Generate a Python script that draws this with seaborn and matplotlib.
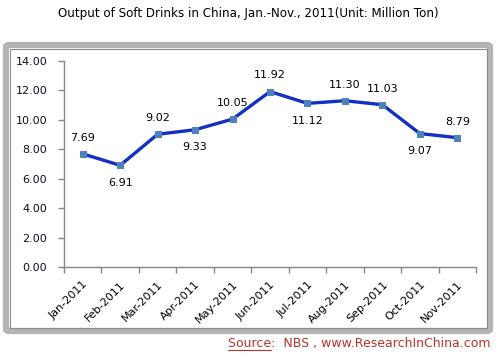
import numpy as np
import pandas as pd
import matplotlib
matplotlib.use("Agg")
import matplotlib.pyplot as plt
import seaborn as sns
from matplotlib.patches import FancyBboxPatch

# Monthly output of soft drinks (million ton)
months = ["Jan-2011", "Feb-2011", "Mar-2011", "Apr-2011", "May-2011", "Jun-2011",
          "Jul-2011", "Aug-2011", "Sep-2011", "Oct-2011", "Nov-2011"]
output = [7.69, 6.91, 9.02, 9.33, 10.05, 11.92, 11.12, 11.30, 11.03, 9.07, 8.79]
# label above (+1) or below (-1) the point
label_side = [1, -1, 1, -1, 1, 1, -1, 1, 1, -1, 1]

df = pd.DataFrame({"month": months, "output": output, "pos": np.arange(len(months))})

sns.set_style("white")
plt.rcParams["font.family"] = ["DejaVu Sans"]

fig = plt.figure(figsize=(4.96, 3.56), dpi=100)
fig.patch.set_facecolor("white")

# beveled frame around the chart
frame = FancyBboxPatch((6 / 496, 1 - 331 / 356), 484 / 496, 286 / 356,
                       boxstyle="round,pad=0,rounding_size=0.006",
                       transform=fig.transFigure, facecolor="white",
                       edgecolor="#b4b4b4", linewidth=4.5, zorder=-2)
fig.patches.append(frame)
inner = FancyBboxPatch((9.5 / 496, 1 - 327.5 / 356), 477 / 496, 279 / 356,
                       boxstyle="square,pad=0", transform=fig.transFigure,
                       facecolor="none", edgecolor="#8c8c8c", linewidth=0.8, zorder=-1)
fig.patches.append(inner)

ax = fig.add_axes([64 / 496, 1 - 267 / 356, 412 / 496, 206 / 356])
ax.set_facecolor("none")
ax.set_zorder(1)

sns.lineplot(data=df, x="pos", y="output", ax=ax, color="#1330c2", linewidth=2.4,
             marker="s", markersize=4.5, markerfacecolor="#4f81bd",
             markeredgecolor="#4f81bd", zorder=3)

for x, y, s in zip(df["pos"], df["output"], label_side):
    ax.annotate(f"{y:.2f}", (x, y), xytext=(0, 8 if s > 0 else -9),
                textcoords="offset points", ha="center",
                va="bottom" if s > 0 else "top", fontsize=8, color="black")

ax.set_xlim(-0.5, len(months) - 0.5)
ax.set_ylim(0, 14)
ax.set_yticks(np.arange(0, 14.1, 2))
ax.set_yticklabels([f"{v:.2f}" for v in np.arange(0, 14.1, 2)], fontsize=8, color="#0d0d2b")
ax.set_xticks(df["pos"])
ax.set_xticklabels(months, rotation=45, ha="right", rotation_mode="anchor",
                   fontsize=8, color="black")
ax.set_xticks(np.arange(-0.5, len(months)), minor=True)
ax.tick_params(axis="x", which="major", bottom=True, length=0, pad=9)
ax.tick_params(axis="x", which="minor", bottom=True, length=4, color="#868686",
               width=1, direction="out")
ax.tick_params(axis="y", left=True, length=4, color="#868686", width=1,
               direction="out", pad=8)
ax.set_xlabel("")
ax.set_ylabel("")
for side in ["top", "right"]:
    ax.spines[side].set_visible(False)
for side in ["left", "bottom"]:
    ax.spines[side].set_color("#868686")
    ax.spines[side].set_linewidth(1)

fig.text(0.5, 1 - 14 / 356, "Output of Soft Drinks in China, Jan.-Nov., 2011(Unit: Million Ton)",
         ha="center", va="center", fontsize=8.6, color="black")

src = fig.text(490 / 496, 1 - 344 / 356, "Source:  NBS , www.ResearchInChina.com",
               ha="right", va="center", fontsize=9, color="#b8352b")
fig.canvas.draw()
bb = src.get_window_extent()
head = fig.text(0, 0, "Source", fontsize=9)
hw = head.get_window_extent().width
head.remove()
fig.add_artist(plt.Line2D([bb.x0 / fig.bbox.width, (bb.x0 + hw) / fig.bbox.width],
                          [(bb.y0 + 1) / fig.bbox.height] * 2,
                          transform=fig.transFigure, color="#b8352b", linewidth=0.8))

fig.savefig("out.png", dpi=100)
